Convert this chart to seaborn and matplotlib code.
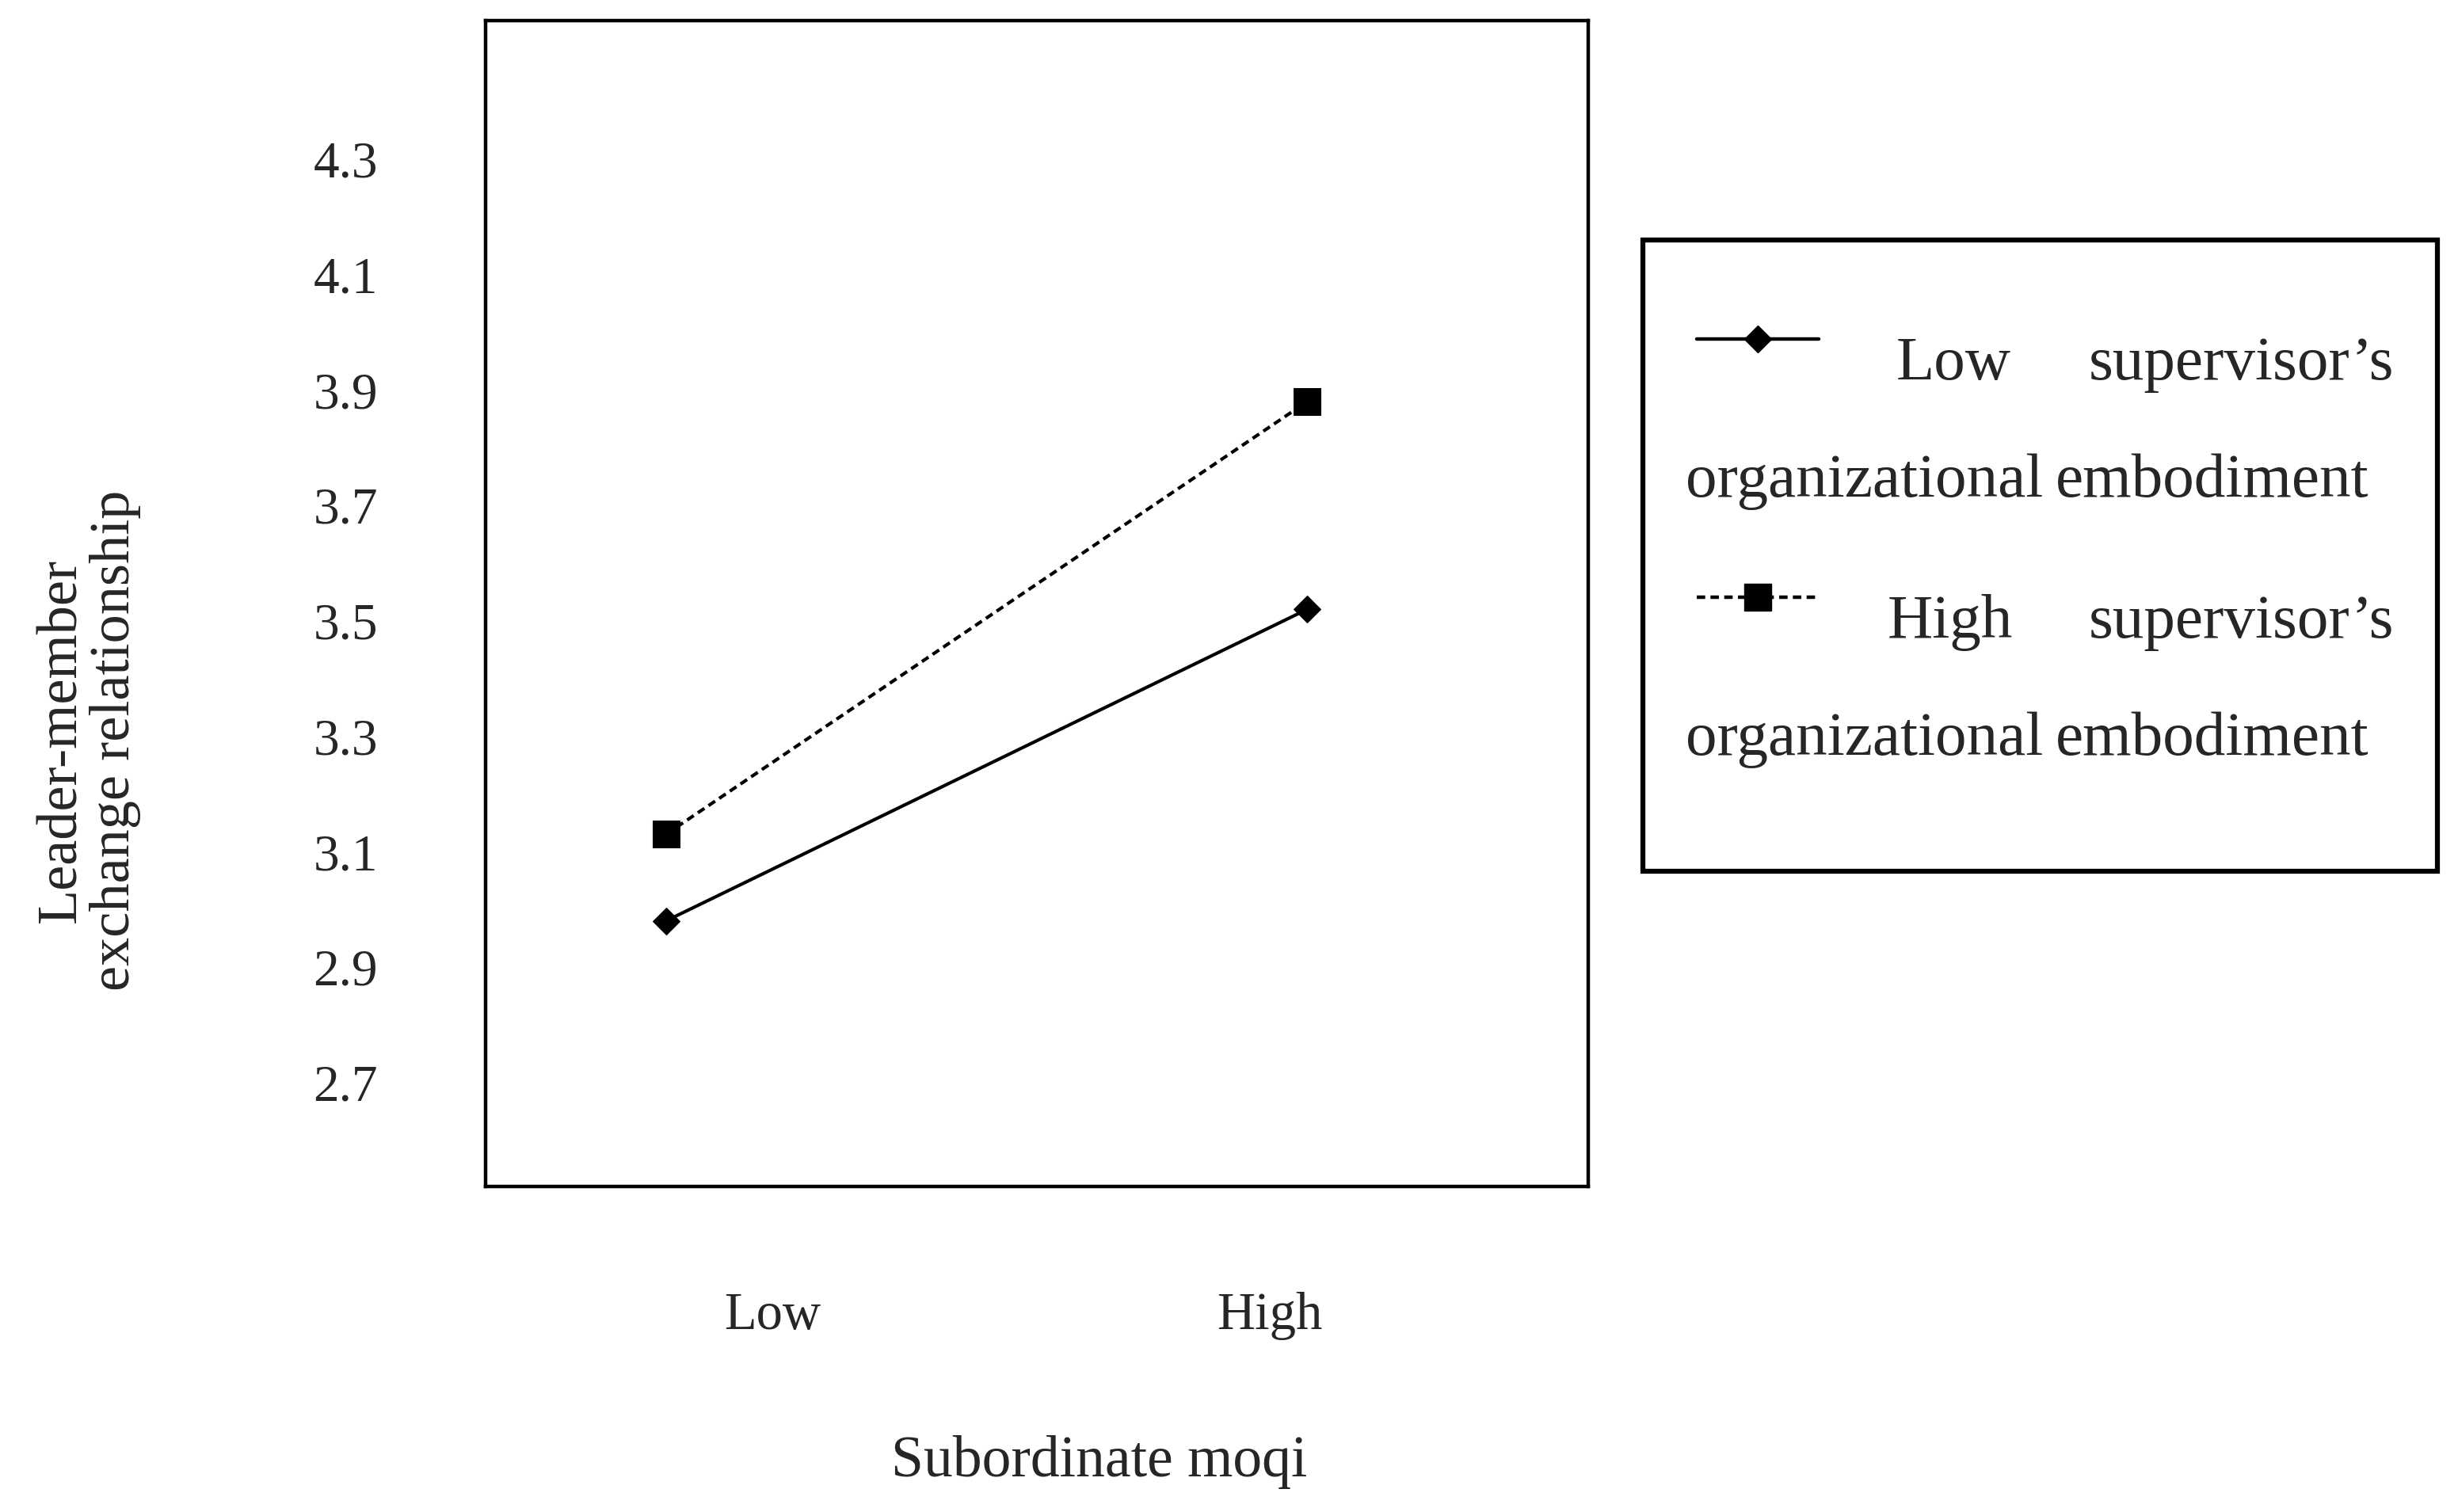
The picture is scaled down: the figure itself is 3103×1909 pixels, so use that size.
import matplotlib
matplotlib.use("Agg")
import matplotlib.pyplot as plt
from matplotlib.lines import Line2D
from matplotlib.patches import Rectangle
import seaborn as sns
import pandas as pd

# ---- data ----
moqi_levels = ["Low", "High"]
low_supervisor = [2.98, 3.52]
high_supervisor = [3.13, 3.88]
y_ticks = [2.7, 2.9, 3.1, 3.3, 3.5, 3.7, 3.9, 4.1, 4.3]
series_names = ["Low supervisor's organizational embodiment",
                "High supervisor's organizational embodiment"]

df = pd.DataFrame({
    "x": [0, 1, 0, 1],
    "y": low_supervisor + high_supervisor,
    "group": [series_names[0]] * 2 + [series_names[1]] * 2,
})

sns.set_style("white")
plt.rcParams["font.family"] = ["Liberation Serif", "DejaVu Serif"]

W, H = 3103, 1909
fig = plt.figure(figsize=(W / 100, H / 100), dpi=100)
ax = fig.add_axes([613 / W, 1 - 1498 / H, (2005 - 613) / W, (1498 - 26) / H])

sns.lineplot(data=df, x="x", y="y", style="group",
             markers={series_names[0]: "D", series_names[1]: "s"},
             dashes={series_names[0]: "", series_names[1]: (2.4, 1.5)},
             markersize=17, color="black", linewidth=3.0, legend=False, ax=ax,
             markeredgecolor="black")
for line, ms in zip(ax.lines, [17, 24]):
    line.set_markersize(ms)

ax.set_xlim(-0.281, 1.438)
ax.set_ylim(2.52, 4.54)
ax.set_yticks(y_ticks)
ax.set_yticklabels([f"{v:.1f}" for v in y_ticks], fontsize=47)
ax.set_xticks([0.166, 0.941])
ax.set_xticklabels(moqi_levels, fontsize=48)
ax.tick_params(axis="y", length=0, pad=98)
ax.tick_params(axis="x", length=0, pad=96)
ax.set_xlabel("")
ax.set_ylabel("")
for s in ax.spines.values():
    s.set_visible(True)
    s.set_color("black")
    s.set_linewidth(3.2)

fig.text(1388 / W, 1 - 1846 / H, "Subordinate moqi", fontsize=53,
         ha="center", va="center")
fig.text(112 / W, 1 - 935 / H, "Leader-member\nexchange relationship",
         fontsize=52, rotation=90, ha="center", va="center",
         multialignment="center", linespacing=1.05)

# ---- legend box ----
fig.patches.append(Rectangle((2074 / W, 1 - 1100 / H), (3077 - 2074) / W,
                             (1100 - 303) / H, transform=fig.transFigure,
                             fill=False, edgecolor="black", linewidth=4.5))
fs = 57
handle_rows = [(428, "D", "", 17, "Low"), (754, "s", (2.4, 1.5), 24, "High")]
for yy, mk, ds, ms, word in handle_rows:
    ln = Line2D([2142 / W, 2296 / W], [1 - yy / H, 1 - yy / H],
                transform=fig.transFigure, color="black", linewidth=3.2,
                linestyle="-" if ds == "" else (0, ds))
    fig.add_artist(ln)
    fig.add_artist(Line2D([2219 / W], [1 - yy / H], transform=fig.transFigure,
                          marker=mk, markersize=ms, color="black",
                          linestyle="none"))
    fig.text((2466 if word == "Low" else 2462) / W, 1 - (yy + 32) / H, word,
             fontsize=fs, ha="center", va="center")
    fig.text(3022 / W, 1 - (yy + 32) / H, "supervisor\u2019s",
             fontsize=fs, ha="right", va="center")
    fig.text(2128 / W, 1 - (yy + 180) / H, "organizational",
             fontsize=fs, ha="left", va="center")
    fig.text(2990 / W, 1 - (yy + 180) / H, "embodiment",
             fontsize=fs, ha="right", va="center")

fig.savefig("out.png", dpi=100, facecolor="white")
